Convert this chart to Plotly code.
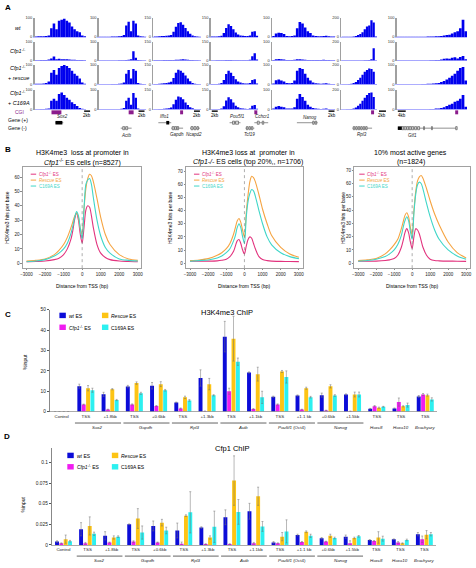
import plotly.graph_objects as go

W, H = 476, 568
FONT = "Liberation Sans, Arial, sans-serif"

# ---------------- Panel A data (H3K4me3 browser tracks) ----------------
a_conditions = ["wt", "Cfp1-/-", "Cfp1-/- + rescue", "Cfp1-/- + C169A"]
a_genes = ["Sox2", "Actb", "Gapdh", "Pou5f1", "Nanog", "Rpl3", "Gtf1"]
a_ymax = [100, 100, 150, 150, 100, 200, 100]
a_sox2 = [
    [2, 3, 3, 4, 5, 8, 45, 70, 40, 85, 90, 95, 85, 75, 55, 40, 30, 25, 8, 3],
    [2, 2, 3, 3, 4, 6, 12, 22, 8, 10, 8, 7, 8, 6, 5, 5, 4, 3, 3, 2],
    [3, 3, 4, 5, 8, 15, 60, 75, 50, 85, 95, 100, 95, 85, 70, 55, 45, 30, 10, 3],
    [2, 2, 3, 3, 4, 6, 45, 55, 45, 80, 87, 75, 60, 50, 38, 28, 18, 8, 4, 2],
]
a_actb = [
    [1, 1, 1, 1, 1, 2, 2, 2, 3, 5, 10, 60, 80, 30, 85, 70, 8, 3, 2, 1],
    [1, 1, 1, 1, 1, 1, 1, 1, 2, 2, 2, 3, 5, 8, 50, 15, 3, 2, 1, 1],
    [1, 1, 1, 1, 1, 2, 2, 2, 3, 5, 10, 55, 75, 30, 80, 70, 8, 3, 2, 1],
    [1, 1, 1, 1, 1, 1, 2, 2, 2, 4, 8, 45, 60, 25, 85, 60, 5, 2, 1, 1],
]
a_gapdh = [
    [3, 4, 5, 8, 8, 10, 12, 15, 40, 80, 110, 115, 95, 70, 45, 25, 12, 6, 4, 2],
    [3, 3, 4, 4, 5, 5, 5, 5, 6, 8, 8, 10, 12, 10, 8, 6, 5, 4, 3, 2],
    [3, 4, 5, 8, 10, 12, 15, 20, 50, 90, 114, 105, 90, 70, 45, 25, 12, 6, 4, 2],
    [3, 3, 4, 5, 6, 8, 10, 15, 40, 75, 100, 95, 80, 55, 35, 18, 10, 5, 3, 2],
]
a_pou5f1 = [
    [3, 3, 4, 5, 10, 30, 70, 100, 85, 60, 35, 20, 12, 10, 8, 8, 12, 40, 45, 10],
    [2, 2, 3, 3, 3, 4, 5, 6, 5, 4, 3, 3, 3, 3, 3, 4, 8, 35, 60, 10],
    [3, 3, 4, 6, 12, 35, 80, 105, 90, 65, 40, 22, 14, 10, 8, 8, 12, 35, 40, 8],
    [2, 3, 3, 4, 8, 25, 70, 95, 80, 55, 30, 18, 10, 8, 6, 5, 8, 30, 35, 6],
]
a_nanog = [
    [5, 18, 22, 20, 15, 5, 4, 5, 8, 45, 78, 70, 50, 30, 20, 8, 5, 4, 3, 5, 6, 3, 2, 2],
    [3, 8, 9, 8, 6, 3, 3, 4, 5, 7, 8, 6, 5, 4, 3, 3, 3, 3, 3, 5, 4, 3, 2, 2],
    [5, 22, 25, 20, 15, 8, 6, 8, 20, 70, 85, 80, 55, 35, 20, 10, 6, 5, 4, 5, 6, 3, 2, 2],
    [5, 15, 18, 15, 12, 6, 5, 6, 12, 55, 80, 65, 45, 25, 15, 8, 5, 4, 3, 4, 5, 3, 2, 2],
]
a_rpl3 = [
    [1, 1, 1, 2, 3, 5, 10, 20, 30, 50, 80, 110, 120, 175, 150, 5],
    [1, 1, 1, 1, 1, 1, 1, 2, 2, 3, 4, 5, 8, 15, 133, 3],
    [2, 2, 3, 4, 8, 15, 25, 45, 70, 100, 130, 150, 165, 160, 130, 5],
    [1, 1, 2, 3, 5, 10, 20, 40, 60, 90, 120, 150, 170, 175, 130, 4],
]
a_gtf = [
    [1, 1, 1, 1, 1, 1, 1, 1, 1, 1, 1, 2, 2, 2, 3, 3, 5, 8, 10, 12, 18, 25, 30, 45, 90, 30],
    [1, 1, 1, 1, 1, 1, 1, 1, 1, 1, 1, 1, 2, 2, 3, 4, 6, 10, 12, 10, 15, 18, 12, 20, 25, 8],
    [1, 1, 1, 1, 1, 1, 1, 1, 1, 2, 2, 3, 4, 5, 6, 8, 12, 18, 25, 35, 45, 55, 70, 85, 90, 20],
    [1, 1, 1, 1, 1, 1, 1, 1, 1, 1, 2, 2, 3, 3, 5, 6, 8, 12, 18, 25, 30, 40, 45, 55, 75, 15],
]

# ---------------- Panel B data (metaprofiles) ----------------
b_dist = [-3000, -2500, -2000, -1500, -1250, -1000, -800, -600, -500, -400, -300, -200, -100, 0,
          100, 200, 300, 400, 500, 600, 800, 1000, 1250, 1500, 2000, 2500, 3000]
b1_cfp1 = [1, 1.2, 1.5, 2.5, 3.5, 6, 10, 17, 23, 31, 35, 30, 20, 14, 25, 37, 40, 39, 33, 25, 13, 7, 4, 2.5, 1.5, 1.2, 1]
b1_rescue = [1.5, 2, 3, 6, 9, 13, 18, 25, 29, 33, 35, 32, 24, 20, 38, 52, 59, 62, 61, 57, 45, 32, 20, 13, 6, 3, 2]
b1_c169a = [1, 1.5, 2.5, 5, 7, 10, 14, 21, 26, 32, 36, 33, 24, 17, 38, 55, 58, 59, 55, 46, 30, 19, 11, 7, 3, 2, 1.5]
b2_cfp1 = [1.5, 1.5, 1.6, 1.8, 2.2, 3, 5, 9, 13, 17, 18, 15, 10, 7, 13, 18, 20, 19, 15, 11, 5, 2.8, 2, 1.6, 1.4, 1.3, 1.2]
b2_rescue = [2, 2.5, 3.5, 6, 8, 11, 15, 22, 27, 32, 34, 31, 25, 20, 38, 52, 62, 66, 65, 62, 52, 41, 30, 21, 12, 7, 4.5]
b2_c169a = [1.5, 2, 2.5, 4, 5.5, 8, 11, 17, 21, 27, 30, 27, 20, 15, 35, 47, 53, 56, 55, 51, 40, 30, 20, 14, 8, 5, 3.5]
b3_cfp1 = [1.5, 1.5, 1.6, 2, 2.5, 3.5, 6, 12, 17, 23, 26, 23, 16, 11, 20, 26, 25, 22, 17, 12, 6, 3, 2, 1.8, 1.6, 1.5, 1.4]
b3_rescue = [2, 2.5, 3.5, 7, 10, 14, 18, 26, 31, 36, 38, 35, 27, 21, 40, 54, 62, 65, 66, 64, 56, 47, 37, 29, 16, 8, 4]
b3_c169a = [1.5, 2, 3, 5, 7, 10, 14, 21, 27, 32, 35, 32, 24, 18, 38, 52, 59, 61, 60, 56, 45, 35, 25, 18, 10, 5.5, 3]

# ---------------- Panels C / D data (ChIP-qPCR) ----------------
chip_categories = ["Control", "Sox2 TSS", "Sox2 +1.8kb", "Gapdh TSS", "Gapdh +0.6kb", "Rpl3 TSS", "Rpl3 +1.3kb",
                   "Actb TSS", "Actb +1.1kb", "Pou5f1 TSS", "Pou5f1 +1.1kb", "Nanog +0.6kb", "Nanog +1.5kb",
                   "Hoxc8 TSS", "Hoxa10 TSS", "Brachyury TSS"]
chip_ticklabels = ["Control", "TSS", "+1.8kb", "TSS", "+0.6kb", "TSS", "+1.3kb", "TSS", "+1.1kb", "TSS",
                   "+1.1 kb", "+0.6kb", "+1.5kb", "TSS", "TSS", "TSS"]
chip_gene_groups = [("Sox2", 1, 2), ("Gapdh", 3, 4), ("Rpl3", 5, 6), ("Actb", 7, 8),
                    ("Pou5f1</i> (Oct4)<i>", 9, 10), ("Nanog", 11, 12), ("Hoxc8", 13, 13),
                    ("Hoxa10", 14, 14), ("Brachyury", 15, 15)]
series_names = ["wt ES", "Cfp1-/- ES", "Rescue ES", "C169A ES"]

c_wt = [0, 12.5, 8.5, 12.3, 12.7, 4.5, 16.5, 36.8, 19.2, 7.3, 7.9, 8.1, 8.4, 1.4, 1.6, 7.4]
c_wt_err = [0, 1.0, 1.0, 0.6, 1.6, 0.2, 4.0, 7.5, 0.3, 0.3, 0.3, 1.0, 0.3, 0.2, 0.2, 0.5]
c_ko = [0, 3.5, 1.0, 3.5, 2.8, 1.6, 0.2, 10.0, 1.3, 3.5, 1.0, 0.6, 0.2, 2.7, 4.7, 8.4]
c_ko_err = [0, 0.2, 0.2, 0.3, 0.2, 0.2, 0, 1.5, 0.2, 0.3, 0.2, 0.1, 0, 0.3, 2.0, 0.5]
c_rescue = [0, 11.5, 11.0, 14.0, 13.5, 7.0, 13.5, 35.8, 18.4, 19.7, 11.5, 12.4, 8.4, 1.9, 2.6, 8.1]
c_rescue_err = [0, 1.3, 0.3, 0.6, 1.2, 0.6, 2.8, 11.0, 3.4, 0.5, 0.5, 0.8, 1.2, 0.3, 0.3, 0.5]
c_c169a = [0, 10.5, 5.7, 9.0, 10.5, 5.5, 8.0, 24.5, 7.0, 17.0, 7.1, 7.9, 8.4, 2.4, 3.2, 6.0]
c_c169a_err = [0, 1.0, 0.3, 0.5, 0.4, 0.4, 0.3, 1.8, 3.0, 3.0, 0.4, 0.4, 1.2, 0.2, 1.0, 0.8]

d_wt = [0.004, 0.019, 0.011, 0.025, 0.023, 0.0175, 0.021, 0.0335, 0.0408, 0.003, 0.012, 0.008, 0.010, 0.006, 0.0068, 0.013]
d_wt_err = [0.001, 0.008, 0.005, 0.0005, 0.006, 0.009, 0.001, 0.009, 0.0096, 0.001, 0.001, 0.001, 0.002, 0.0005, 0.0005, 0.002]
d_ko = [0.002, 0.002, 0.003, 0.004, 0.003, 0.0015, 0.001, 0.001, 0.002, 0.002, 0.0036, 0.004, 0.002, 0.0048, 0.003, 0.0068]
d_ko_err = [0.0005, 0.001, 0.0005, 0.001, 0.0005, 0.002, 0.0005, 0.0005, 0.001, 0.0005, 0.0005, 0.0005, 0.003, 0.0005, 0.001, 0.004]
d_rescue = [0.007, 0.023, 0.009, 0.032, 0.027, 0.0355, 0.009, 0.078, 0.059, 0.010, 0.016, 0.011, 0.0084, 0.009, 0.002, 0.0124]
d_rescue_err = [0.005, 0.011, 0.002, 0.012, 0.004, 0.001, 0.002, 0.030, 0.011, 0.005, 0.001, 0.002, 0.001, 0.007, 0.0005, 0.005]
d_c169a = [0.0045, 0.0135, 0.010, 0.015, 0.0175, 0.0395, 0.022, 0.040, 0.0224, 0.0164, 0.011, 0.0084, 0.0104, 0.0076, 0.006, 0.013]
d_c169a_err = [0.001, 0.002, 0.001, 0.008, 0.004, 0.025, 0.019, 0.015, 0.006, 0.014, 0.002, 0.001, 0.001, 0.003, 0.001, 0.002]

# ---------------- styling ----------------
BAR_COLORS = ["#0c0cd8", "#f01cf0", "#fdc414", "#2cf0f0"]
LINE_COLORS = ["#e2337e", "#f5a442", "#3fd6c8"]
TRACK_BLUE = "#0000ee"
CGI_COLOR = "#8b1c8c"
TINY = 4.5


def fx(x):
    return x / W


def fy(y):
    return 1 - y / H


fig = go.Figure()
axes = {}
count = [0]
annotations = []
shapes = []


def add_axes(x0, x1, y0, y1, xopt, yopt):
    count[0] += 1
    i = count[0]
    s = "" if i == 1 else str(i)
    axes["xaxis" + s] = dict(domain=[fx(x0), fx(x1)], anchor="y" + s, **xopt)
    axes["yaxis" + s] = dict(domain=[fy(y1), fy(y0)], anchor="x" + s, **yopt)
    return "x" + s, "y" + s


def text(x, y, s, size=5, color="black", xanchor="center", yanchor="middle", angle=0):
    annotations.append(dict(x=fx(x), y=fy(y), xref="paper", yref="paper", text=s, showarrow=False,
                            font=dict(size=size, color=color, family=FONT), xanchor=xanchor,
                            yanchor=yanchor, textangle=angle, borderpad=0))


def rect(x0, y0, x1, y1, fill, line_color=None, lw=0):
    shapes.append(dict(type="rect", xref="paper", yref="paper", x0=fx(x0), x1=fx(x1), y0=fy(y1), y1=fy(y0),
                       fillcolor=fill, line=dict(color=line_color or fill, width=lw)))


def hline(x0, x1, y, color="black", lw=1):
    shapes.append(dict(type="line", xref="paper", yref="paper", x0=fx(x0), x1=fx(x1), y0=fy(y), y1=fy(y),
                       line=dict(color=color, width=lw)))


# ================= Panel A =================
a_cols_px = [(32, 84), (97, 145), (152, 200), (210, 258), (272, 336), (342, 378), (398, 469)]
a_rows_px = [(15, 34.3), (39.3, 58.3), (62.7, 82.3), (88, 107.7)]
a_profiles = [a_sox2, a_actb, a_gapdh, a_pou5f1, a_nanog, a_rpl3, a_gtf]

for c, (prof, ymax) in enumerate(zip(a_profiles, a_ymax)):
    x0, x1 = a_cols_px[c]
    for r, (y0, y1) in enumerate(a_rows_px):
        vals = prof[r]
        xr, yr = add_axes(
            x0, x1, y0, y1,
            dict(range=[-0.5, len(vals) - 0.5], showticklabels=False, showgrid=False, zeroline=False,
                 showline=True, linecolor="#8c8cff", linewidth=0.6, ticks="", fixedrange=True),
            dict(range=[0, ymax], tickvals=[0, ymax], ticktext=["0", str(ymax)],
                 tickfont=dict(size=4, color="#333", family=FONT), showgrid=False, zeroline=False,
                 showline=True, linecolor="#a0a0a0", linewidth=1.6, ticks="", fixedrange=True))
        fig.add_trace(go.Bar(x=list(range(len(vals))), y=vals, width=1,
                             marker=dict(color=TRACK_BLUE, line=dict(width=0)),
                             xaxis=xr, yaxis=yr, showlegend=False, hoverinfo="skip"))

# row labels
text(5, 5, "<b>A</b>", size=8)
text(15, 25, "<i>wt</i>", size=5.5)
text(15, 49, "<i>Cfp1</i><sup>-/-</sup>", size=5.5)
text(15, 66, "<i>Cfp1</i><sup>-/-</sup>", size=5.5)
text(16, 76, "+ <i>rescue</i>", size=5.5)
text(15, 91, "<i>Cfp1</i><sup>-/-</sup>", size=5.5)
text(16, 101, "+ <i>C169A</i>", size=5.5)
text(17, 110.5, "CGI", size=5, color=CGI_COLOR)
text(15, 118.5, "Gene (+)", size=5)
text(15, 126.5, "Gene (-)", size=5)

# CGI boxes
for (cx0, cx1) in [(49, 59), (127, 132), (179, 182), (254, 257), (372, 375), (457, 460)]:
    rect(cx0, 108.5, cx1, 112.5, CGI_COLOR)

# scale bars
for (sx0, sx1, lab) in [(82, 88, "2kb"), (137, 143, "2kb"), (193, 199, "2kb"), (211, 217, "2kb"),
                        (329, 335, "2kb"), (380, 387, "2kb"), (399, 407, "4kb")]:
    hline(sx0, sx1, 109.3, "black", 1.4)
    text((sx0 + sx1) / 2, 113.7, lab, size=TINY)

# gene models
genes = [
    (53, 61, 121, [], [(53, 60)], "Sox2", 60, 115),
    (119, 130, 126.5, [(121, 123), (124, 126)], [], "Actb", 125, 133.5),
    (157, 170, 121, [], [(165, 168)], "Iffo1", 163, 115),
    (170, 182, 126.5, [(171, 173), (173.5, 175.5), (176, 177.5)], [], "Gapdh", 176, 133),
    (189, 199, 126.5, [(190, 192), (193, 195), (196, 197.5)], [], "Ncapd2", 193, 133),
    (229, 240, 121, [(232, 234), (235, 238)], [], "Pou5f1", 237, 115),
    (245, 254, 126.5, [(246, 247.5), (248.5, 250), (251, 252.5)], [], "Tcf19", 249, 133),
    (254, 268, 121, [(257, 259), (262, 263.5)], [], "Cchcr1", 262, 115),
    (297, 318, 121, [(313, 314.5), (315.5, 317)], [], "Nanog", 310, 116),
    (353, 373, 126.5, [(354, 355.5), (356.5, 358), (359, 360.5), (361.5, 363), (364, 365.5), (366.5, 368)], [],
     "Rpl3", 363, 133),
    (399, 459, 126.5, [(403, 405), (405.5, 407.5), (408, 410), (410.5, 412.5), (413, 415), (416, 418),
                       (419, 421), (425, 426), (433, 434), (457.5, 459)], [(399, 403)], "Gtf1", 414, 134),
]
for (gx0, gx1, gy, exons, filled, lab, lx, ly) in genes:
    hline(gx0, gx1, gy, "#444", 0.6)
    for (e0, e1) in exons:
        rect(e0, gy - 1.6, e1, gy + 1.6, "#d8d8d8", "#333", 0.5)
    for (e0, e1) in filled:
        rect(e0, gy - 1.8, e1, gy + 1.8, "black")
    text(lx, ly, "<i>" + lab + "</i>", size=TINY, color="#222")

# ================= Panel B =================
text(5, 148, "<b>B</b>", size=8)
b_specs = [
    ((b1_cfp1, b1_rescue, b1_c169a), (20, 140), [-3200, 3200], [-3.45, 66.9], 60,
     ("H3K4me3  loss at promoter in", "<i>Cfp1</i><sup>-/-</sup> ES cells (n=8527)"), 80, 4, 28),
    ((b2_cfp1, b2_rescue, b2_c169a), (185, 303), [-3218, 3218], [-3.76, 72.9], 70,
     ("H3K4me3 loss at  promoter in", "<i>Cfp1-/-</i> ES cells (top 20%,, n=1706)"), 248, 168, 193),
    ((b3_cfp1, b3_rescue, b3_c169a), (355, 472), [-3218, 3218], [-3.72, 72.2], 70,
     ("10% most active genes", "(n=1824)"), 412, 343, 360),
]
legend_labels = ["<i>Cfp1</i><sup>-/-</sup> ES", "<i>Rescue</i> ES", "C169A ES"]
for (curves, (x0, x1), xrange_, yrange_, ytop, titles, tcx, ytx, lgx) in b_specs:
    xr, yr = add_axes(
        x0, x1, 166, 268,
        dict(range=xrange_, tickvals=[-3000, -2000, -1000, 0, 1000, 2000, 3000], showgrid=False, zeroline=False,
             showline=True, mirror=True, linecolor="#8a8a8a", linewidth=0.8, ticks="outside", ticklen=1.5,
             tickcolor="#8a8a8a", tickfont=dict(size=4.5, color="#222", family=FONT), fixedrange=True),
        dict(range=yrange_, tickvals=list(range(0, ytop + 1, 10)), showgrid=False, zeroline=False,
             showline=True, mirror=True, linecolor="#8a8a8a", linewidth=0.8, ticks="outside", ticklen=1.5,
             tickcolor="#8a8a8a", tickfont=dict(size=4.6, color="#222", family=FONT), fixedrange=True))
    for k, ys in enumerate(curves):
        fig.add_trace(go.Scatter(x=b_dist, y=ys, mode="lines", line=dict(color=LINE_COLORS[k], width=1.1,
                                                                          shape="spline", smoothing=0.8),
                                 xaxis=xr, yaxis=yr, showlegend=False, hoverinfo="skip"))
    shapes.append(dict(type="line", xref=xr, yref=yr + " domain", x0=0, x1=0, y0=0, y1=1,
                       line=dict(color="#777", width=0.6, dash="dot")))
    text(tcx, 152, titles[0], size=7)
    text(tcx, 161, titles[1], size=7)
    text((x0 + x1) / 2, 286, "Distance from TSS (bp)", size=5)
    text(ytx, 217, "H3K4me3 hits per base", size=5, angle=-90)
    for k in range(3):
        ly = 173 + 6 * k
        hline(lgx, lgx + 5.5, ly, LINE_COLORS[k], 1)
        text(lgx + 7, ly, legend_labels[k], size=4.5, color=LINE_COLORS[k], xanchor="left")


# ================= Panels C and D =================
def chip_panel(ydom, yrange_, tickvals, ticktext, series, errs, title, title_xy, ul_y, gene_y,
               ytitle_xy, legend_y, legend_x, panel_label_xy, panel_letter, xdom):
    xr, yr = add_axes(
        xdom[0], xdom[1], ydom[0], ydom[1],
        dict(type="category", categoryorder="array", categoryarray=chip_categories, range=[-0.5, 15.5],
             tickvals=chip_categories, ticktext=chip_ticklabels, showgrid=False, zeroline=False,
             showline=True, linecolor="#888", linewidth=0.7, ticks="", tickfont=dict(size=4.4, color="#222",
                                                                                       family=FONT),
             fixedrange=True),
        dict(range=yrange_, tickvals=tickvals, ticktext=ticktext, showgrid=False, zeroline=False,
             showline=True, linecolor="#555", linewidth=0.7, ticks="outside", ticklen=2, tickcolor="#555",
             tickfont=dict(size=4.8, color="#222", family=FONT), fixedrange=True))
    for k in range(4):
        fig.add_trace(go.Bar(x=chip_categories, y=series[k], name=series_names[k],
                             marker=dict(color=BAR_COLORS[k], line=dict(width=0)),
                             error_y=dict(type="data", array=errs[k], color="#707070", thickness=0.5, width=1),
                             xaxis=xr, yaxis=yr, showlegend=False, hoverinfo="skip"))
    text(title_xy[0], title_xy[1], title, size=7.5)
    text(ytitle_xy[0], ytitle_xy[1], "%input", size=5, angle=-90)
    text(panel_label_xy[0], panel_label_xy[1], "<b>" + panel_letter + "</b>", size=8)
    # gene group underlines and names (category index -> pixel position within axis domain)
    step = (xdom[1] - xdom[0]) / len(chip_categories)
    for (g, i0, i1) in chip_gene_groups:
        left = xdom[0] + (i0 + 0.05) * step
        right = xdom[0] + (i1 + 0.95) * step
        if i1 > i0:
            hline(left, right, ul_y, "#222", 0.7)
        text((left + right) / 2, gene_y, "<i>" + g + "</i>", size=4.4, color="#222")
    # legend (2 x 2)
    leg_text = ["<i>wt</i> ES", "<i>Cfp1</i><sup>-/-</sup> ES", "<i>Rescue</i> ES", "C169A ES"]
    pos = [(0, 0), (0, 1), (1, 0), (1, 1)]
    for k in range(4):
        colx = legend_x[pos[k][0]]
        rowy = legend_y[pos[k][1]]
        rect(colx, rowy - 3, colx + 6.5, rowy + 2.5, BAR_COLORS[k])
        text(colx + 8.5, rowy, leg_text[k], size=5, xanchor="left")


chip_panel((310, 413), [0, 50], [0, 10, 20, 30, 40, 50], ["0", "10", "20", "30", "40", "50"],
           [c_wt, c_ko, c_rescue, c_c169a], [c_wt_err, c_ko_err, c_rescue_err, c_c169a_err],
           "H3K4me3 ChIP", (226, 313), 424.5, 429.5, (22, 363), (316, 328), (57, 100), (5, 315), "C",
           (47, 439))

chip_panel((450, 547.7), [0, 0.1172], [0, 0.025, 0.05, 0.075, 0.1], ["0", "0.025", "0.05", "0.075", "0.1"],
           [d_wt, d_ko, d_rescue, d_c169a], [d_wt_err, d_ko_err, d_rescue_err, d_c169a_err],
           "Cfp1 ChIP", (232, 450), 559, 563.8, (20, 507), (457.5, 469), (65, 110), (4, 438), "D",
           (49, 438))

fig.update_layout(
    width=W, height=H, margin=dict(l=0, r=0, t=0, b=0),
    paper_bgcolor="white", plot_bgcolor="white",
    showlegend=False, barmode="group", bargap=0.28, bargroupgap=0.1,
    font=dict(family=FONT, size=5, color="black"),
    annotations=annotations, shapes=shapes,
    **axes,
)

fig.write_html("out.html", config={"displayModeBar": False, "staticPlot": True},
               post_script="document.body.style.margin='0px';document.body.style.overflow='hidden';")
